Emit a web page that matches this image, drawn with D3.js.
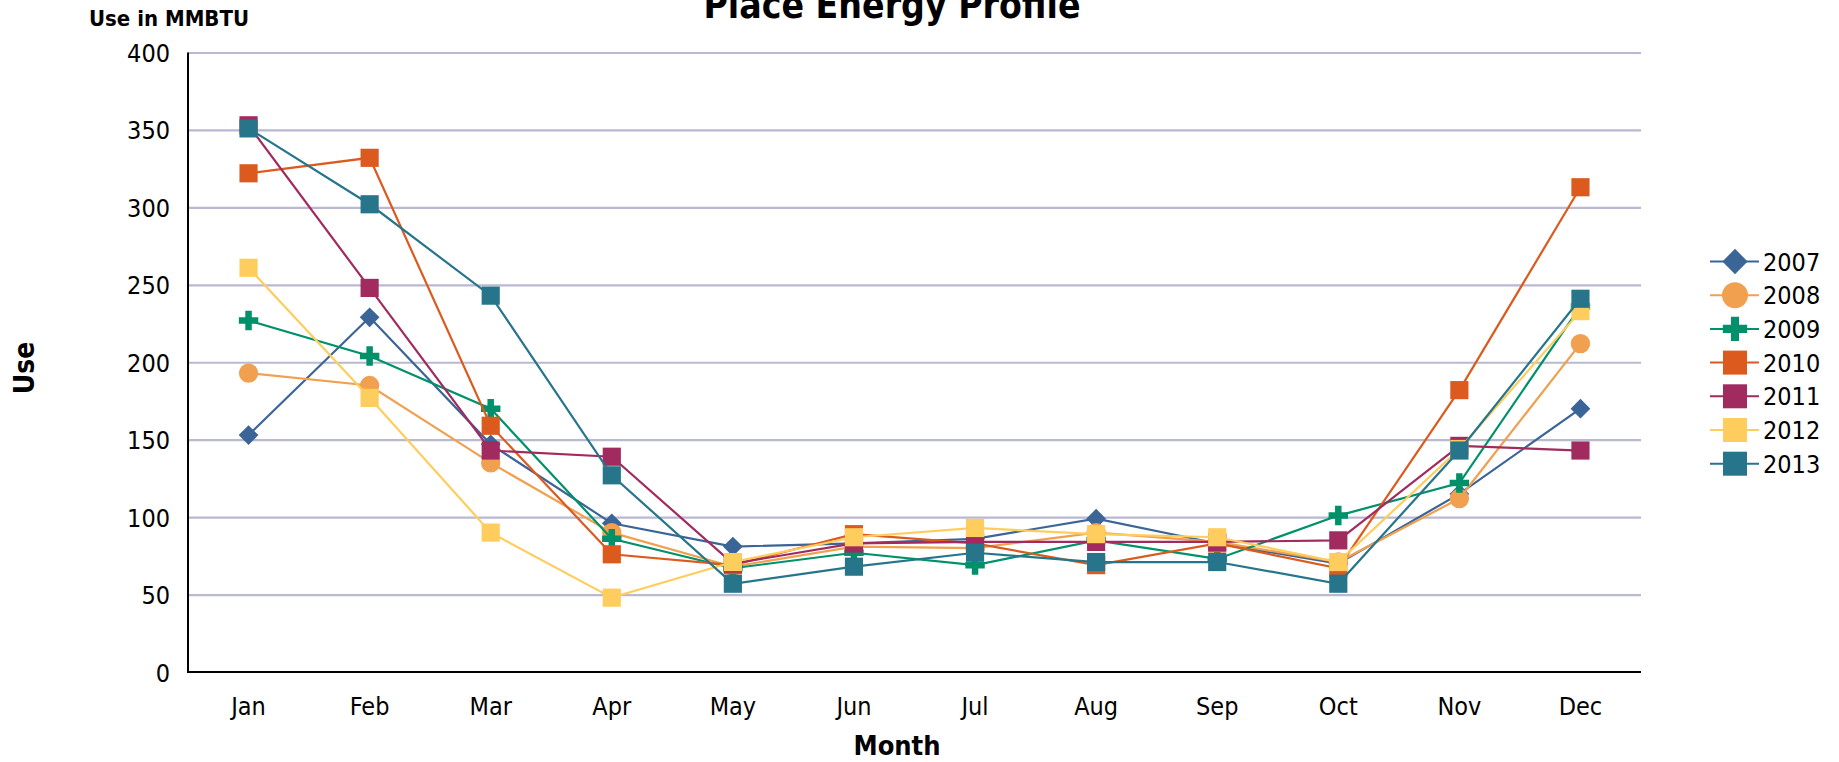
<!DOCTYPE html>
<html>
<head>
<meta charset="utf-8">
<script src="https://cdn.jsdelivr.net/npm/d3@7"></script>
<style>
  html, body { margin: 0; padding: 0; background: #fff; }
  svg { display: block; }
  text { font-family: "DejaVu Sans Condensed", "DejaVu Sans", sans-serif; font-stretch: condensed; fill: #000; }
  .tick-label { font-size: 25px; }
  .bold { font-weight: bold; }
</style>
</head>
<body>
<svg id="chart" width="1839" height="762"></svg>
<script>
const months = ["Jan", "Feb", "Mar", "Apr", "May", "Jun", "Jul", "Aug", "Sep", "Oct", "Nov", "Dec"];
const years = ["2007", "2008", "2009", "2010", "2011", "2012", "2013"];
const yTicks = [0, 50, 100, 150, 200, 250, 300, 350, 400];

const use2007 = [153, 229, 147, 96, 81, 83, 86, 99, 83, 70, 115, 170];
const use2008 = [193, 185, 135, 90, 68, 81, 80, 90, 84, 71, 112, 212];
const use2009 = [227, 204, 170, 86, 67, 77, 69, 85, 73, 101, 122, 236];
const use2010 = [322, 332, 159, 76, 69, 89, 83, 69, 83, 67, 182, 313];
const use2011 = [353, 248, 143, 139, 70, 83, 84, 84, 84, 85, 146, 143];
const use2012 = [261, 177, 90, 48, 71, 87, 93, 89, 87, 71, 144, 233];
const use2013 = [351, 302, 243, 127, 57, 68, 77, 71, 71, 57, 143, 241];

const seriesValues = [use2007, use2008, use2009, use2010, use2011, use2012, use2013];
const colors = ["#3b6497", "#f0a04f", "#00916a", "#dc5a1e", "#a12a5e", "#ffcd5d", "#26758a"];
const shapes = ["diamond", "circle", "cross", "square", "square", "square", "square"];

const svg = d3.select("#chart");
const plotLeft = 188, plotRight = 1641, plotTop = 52.5, plotBottom = 672;

const x = d3.scaleBand().domain(months).range([plotLeft, plotRight]);
const y = d3.scaleLinear().domain([0, 400]).range([plotBottom, plotTop]);
const cx = m => x(m) + x.bandwidth() / 2;

// symbol sizes (area) for chart and legend
function symbolPath(shape, big) {
  if (shape === "diamond") return d3.symbol(d3.symbolSquare, big ? 320 : 195)();
  if (shape === "circle") return d3.symbol(d3.symbolCircle, big ? 530 : 295)();
  if (shape === "cross") return d3.symbol(d3.symbolCross, big ? 330 : 210)();
  return d3.symbol(d3.symbolSquare, big ? 576 : 330)();
}

// gridlines
svg.append("g")
  .attr("transform", `translate(${plotLeft},0)`)
  .call(d3.axisLeft(y).tickValues(yTicks.slice(1)).tickSize(-(plotRight - plotLeft)).tickFormat(""))
  .call(g => g.select(".domain").remove())
  .call(g => g.selectAll(".tick line").attr("stroke", "#b9b9d1").attr("stroke-width", 2.2));

// y tick labels
svg.append("g")
  .attr("transform", `translate(${plotLeft},0)`)
  .call(d3.axisLeft(y).tickValues(yTicks).tickSize(0).tickPadding(18))
  .call(g => g.select(".domain").remove())
  .call(g => g.selectAll(".tick text").attr("class", "tick-label").attr("dy", "0.36em"));

// x tick labels
svg.append("g")
  .attr("transform", `translate(0,${plotBottom})`)
  .call(d3.axisBottom(x).tickSize(0).tickPadding(25))
  .call(g => g.select(".domain").remove())
  .call(g => g.selectAll(".tick text").attr("class", "tick-label"));

// axis lines
svg.append("line").attr("x1", plotLeft).attr("x2", plotLeft).attr("y1", plotTop).attr("y2", plotBottom + 1)
  .attr("stroke", "#000").attr("stroke-width", 2);
svg.append("line").attr("x1", plotLeft - 1).attr("x2", plotRight).attr("y1", plotBottom).attr("y2", plotBottom)
  .attr("stroke", "#000").attr("stroke-width", 2);

// series
const line = d3.line().x((d, i) => cx(months[i])).y(d => y(d));
years.forEach((yr, s) => {
  const g = svg.append("g");
  g.append("path").datum(seriesValues[s])
    .attr("d", line).attr("fill", "none")
    .attr("stroke", colors[s]).attr("stroke-width", 2.2);
  g.selectAll("path.pt").data(seriesValues[s]).join("path")
    .attr("class", "pt")
    .attr("d", symbolPath(shapes[s], false))
    .attr("transform", (d, i) => `translate(${cx(months[i])},${y(d)})${shapes[s] === "diamond" ? " rotate(45)" : ""}`)
    .attr("fill", colors[s]);
});

// legend
const legend = svg.append("g");
years.forEach((yr, s) => {
  const ly = 261.5 + s * 33.7;
  legend.append("line").attr("x1", 1710).attr("x2", 1759).attr("y1", ly).attr("y2", ly)
    .attr("stroke", colors[s]).attr("stroke-width", 2);
  legend.append("path")
    .attr("d", symbolPath(shapes[s], true))
    .attr("transform", `translate(1735,${ly})${shapes[s] === "diamond" ? " rotate(45)" : ""}`)
    .attr("fill", colors[s]);
  legend.append("text").attr("class", "tick-label")
    .attr("x", 1763).attr("y", ly).attr("dy", "0.36em").text(yr);
});

// titles (the chart title is clipped at the top edge, as in the source image)
svg.append("text").attr("class", "bold").attr("x", 892).attr("y", 18)
  .attr("text-anchor", "middle").style("font-size", "37px").text("Place Energy Profile");
svg.append("text").attr("class", "bold").attr("x", 89).attr("y", 26)
  .style("font-size", "22px").text("Use in MMBTU");
svg.append("text").attr("class", "bold")
  .attr("transform", "translate(34,368) rotate(-90)")
  .attr("text-anchor", "middle").style("font-size", "28px").text("Use");
svg.append("text").attr("class", "bold").attr("x", 897).attr("y", 755)
  .attr("text-anchor", "middle").style("font-size", "27px").text("Month");
</script>
</body>
</html>
